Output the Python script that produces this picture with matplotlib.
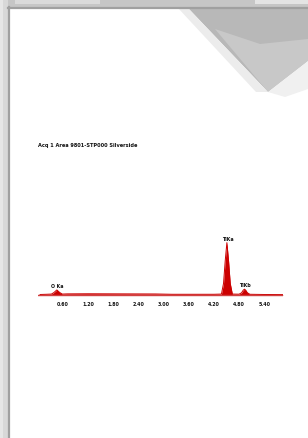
import matplotlib
matplotlib.use('Agg')
import matplotlib.pyplot as plt
from matplotlib.patches import Rectangle, Polygon

# spectrum (keV, counts)
energy = [0.05, 0.20, 0.32, 0.38, 0.45, 0.52, 0.58, 0.70, 1.20, 2.00, 2.80, 3.20, 3.60, 4.20, 4.38,
          4.43, 4.47, 4.51, 4.55, 4.59, 4.64, 4.80, 4.86, 4.90, 4.93, 4.96, 5.00, 5.06, 5.40, 5.85]
counts = [8, 12, 16, 45, 95, 45, 16, 20, 22, 20, 18, 12, 12, 12, 16,
          220, 650, 1000, 650, 220, 16, 14, 40, 90, 110, 90, 40, 12, 8, 6]

peak_names = ['O Ka', 'TiKa', 'TiKb']
peak_energy = [0.45, 4.51, 4.93]
peak_counts = [95, 1000, 110]

tick_pos = [0.60, 1.20, 1.80, 2.40, 3.00, 3.60, 4.20, 4.80, 5.40]
tick_labels = ['0.60', '1.20', '1.80', '2.40', '3.00', '3.60', '4.20', '4.80', '5.40']

title = 'Acq 1 Area 9801-STP000 Silverside'

W, H = 308, 439
fig = plt.figure(figsize=(W / 100, H / 100), dpi=100)
fig.patch.set_facecolor('#cdcdcd')

# page background (pixel coordinates, origin top-left)
bg = fig.add_axes([0, 0, 1, 1])
bg.set_xlim(0, W)
bg.set_ylim(H, 0)
bg.axis('off')
bg.add_patch(Rectangle((0, 0), W, 9, color='#c6c6c6', lw=0))
bg.add_patch(Rectangle((15, 0), 85, 5, color='#dadada', lw=0))
bg.add_patch(Rectangle((255, 0), 53, 5, color='#e4e4e4', lw=0))
bg.add_patch(Rectangle((0, 0), 8, H, color='#d8d8d8', lw=0))
bg.add_patch(Rectangle((0, 0), 3, H, color='#e6e6e6', lw=0))
bg.add_patch(Rectangle((9, 9), W - 9, H - 9, color='white', lw=0))
bg.plot([8.5, 8.5], [8, H], color='#a0a0a0', lw=1.6)
bg.plot([8, W], [8.5, 8.5], color='#a0a0a0', lw=1.6)

# curled corner
bg.add_patch(Polygon([(188, 9), (W, 9), (W, 62), (268, 93)], closed=True,
                     color='#b8b8b8', lw=0))
bg.add_patch(Polygon([(215, 30), (268, 93), (W, 62), (W, 40), (260, 45)], closed=True,
                     color='#c8c8c8', lw=0))
bg.add_patch(Polygon([(268, 93), (W, 62), (W, 90), (285, 98)], closed=True,
                     color='#f0f0f0', lw=0))
bg.add_patch(Polygon([(178, 9), (188, 9), (268, 93), (256, 93)], closed=True,
                     color='#ececec', lw=0))

# spectrum
ax = fig.add_axes([38 / W, (H - 298) / H, (283 - 38) / W, (298 - 160) / H])
ax.patch.set_alpha(0)
ax.fill_between(energy, counts, 0, color='#cc0000', lw=0)
ax.plot(energy, counts, color='#cc0000', lw=0.7)
ax.axhline(0, color='#d04040', lw=1.0)
ax.axhline(-60, color='#f3c8c8', lw=0.8)
for name, e, c in zip(peak_names, peak_energy, peak_counts):
    ax.text(e + 0.02, c + 40, name, fontsize=3.4, fontweight='bold',
            ha='center', va='bottom', color='#111111')
ax.set_xlim(0.0, 5.85)
ax.set_ylim(-40, 2600)
ax.set_xticks(tick_pos)
ax.set_xticklabels(tick_labels, fontsize=3.4, fontweight='bold', color='#111111')
ax.tick_params(axis='x', length=0, pad=3)
ax.set_yticks([])
for s in ax.spines.values():
    s.set_visible(False)

fig.text(38 / W, (H - 145) / H, title, fontsize=3.6, fontweight='bold',
         color='#111111', va='center', ha='left')

fig.savefig('out.png', dpi=100)
